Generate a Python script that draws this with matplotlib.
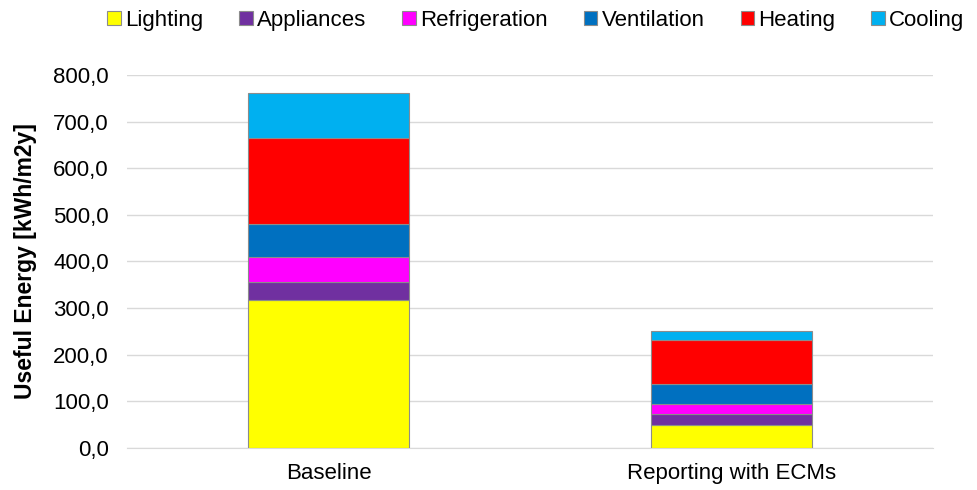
import numpy as np
import matplotlib
matplotlib.use('Agg')
import matplotlib.pyplot as plt
from matplotlib.ticker import FuncFormatter

plt.rcParams['font.family'] = ['Liberation Sans', 'DejaVu Sans']

## Dati
scenarios = ['Baseline', 'Reporting with ECMs']
uses = ['Lighting', 'Appliances', 'Refrigeration', 'Ventilation', 'Heating', 'Cooling']
lighting = [318.0, 50.0]
appliances = [37.0, 23.0]
refrigeration = [55.5, 21.0]
ventilation = [70.0, 43.0]
heating = [185.0, 94.0]
cooling = [96.0, 20.5]
colori = ['#FFFF00', '#7030A0', '#FF00FF', '#0070C0', '#FF0000', '#00B0F0']

serie = [lighting, appliances, refrigeration, ventilation, heating, cooling]

fig = plt.figure(figsize=(9.78, 4.9), dpi=100)
ax = fig.add_axes([0.1299, 0.0857, 0.8242, 0.7613])

x = np.arange(len(scenarios))
base = np.zeros(len(scenarios))
for vals, nome, col in zip(serie, uses, colori):
    ax.bar(x, vals, 0.4, bottom=base, color=col, edgecolor='#8c8c8c',
           linewidth=0.8, label=nome, zorder=3)
    base += np.array(vals)

ax.set_xlim(-0.5, 1.5)
ax.set_ylim(0, 800)
ax.set_yticks(np.arange(0, 801, 100))
ax.yaxis.set_major_formatter(FuncFormatter(lambda v, p: ('%.1f' % v).replace('.', ',')))
ax.set_xticks(x)
ax.set_xticklabels(scenarios)
ax.tick_params(length=0, labelsize=16)
ax.tick_params(axis='y', pad=13)
ax.tick_params(axis='x', pad=11)
ax.grid(axis='y', color='#d9d9d9', linewidth=1, zorder=0)
for s in ['top', 'right', 'left']:
    ax.spines[s].set_visible(False)
ax.spines['bottom'].set_color('#d9d9d9')
ax.set_ylabel('Useful Energy [kWh/m2y]', fontsize=16.5, fontweight='bold', labelpad=12)

fig.legend(loc='center', bbox_to_anchor=(0.548, 0.959), ncol=6, frameon=False,
           fontsize=16, handlelength=0.6, handleheight=0.6, handletextpad=0.2,
           columnspacing=1.62)

plt.savefig('out.png', dpi=100)
